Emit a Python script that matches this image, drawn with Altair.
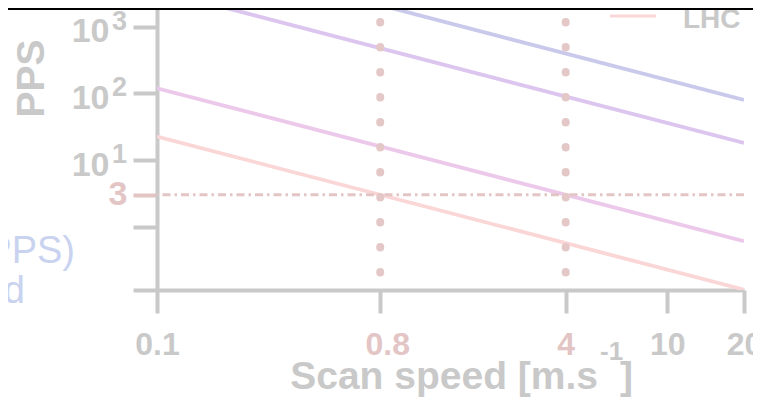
import altair as alt
import pandas as pd

# ---------------- data ----------------
speed_ends = [0.1, 20]
series_names = ["S1", "S2", "S3", "LHC"]
pps_s1 = [16000, 80]
pps_s2 = [3600, 18]
pps_s3 = [120, 0.6]
pps_lhc = [22.5, 0.1125]
line_colors = ["#c9c9ec", "#dcc5ef", "#ecc9ea", "#fad6d6"]

threshold_pps = [3]
marked_speeds = [0.75, 4]

x_tick_values = [0.1, 0.75, 4, 10, 20]
y_tick_values = [0.111, 1, 3, 10, 100, 1000]
y_exp_values = [10, 100, 1000]
y_exp_labels = ["1", "2", "3"]

x_title_parts = ["Scan speed [m.s", "-1", "]"]
legend_label = ["LHC"]
side_texts = ["Points per second (PPS)", "Scan speed"]

# ---------------- styles ----------------
GRAY = "#c9c9c9"
RED = "#e3c5c5"
DOT = "#e4c8c8"
BLUE_TXT = "#c9d3f0"
FB = "Liberation Sans, Arial, sans-serif"
FR = "Liberation Sans, Arial, sans-serif"

rows = []
for name, vals in zip(series_names, [pps_s1, pps_s2, pps_s3, pps_lhc]):
    for s, p in zip(speed_ends, vals):
        rows.append({"speed": s, "pps": p, "series": name})
lines_df = pd.DataFrame(rows)

xscale = alt.Scale(type="log", domain=[0.1, 20], nice=False)
yscale = alt.Scale(type="log", domain=[0.111, 1930], nice=False)

xaxis = alt.Axis(
    values=x_tick_values,
    format="~g",
    labelExpr="datum.value == 0.75 ? '0.8' : datum.label",
    labelColor={"condition": {"test": "datum.value == 0.75 || datum.value == 4", "value": RED}, "value": GRAY},
    labelOffset={"condition": {"test": "datum.value == 0.75", "value": 7}, "value": 0},
    labelFont=FB, labelFontSize=32, labelFontWeight="bold",
    labelPadding=16, labelOverlap=False, labelFlush=False, labelBound=False,
    tickSize=23, tickWidth=4, tickColor=GRAY,
    domainColor=GRAY, domainWidth=4, grid=False, title=None,
)

yaxis = alt.Axis(
    values=y_tick_values,
    labelExpr="datum.value == 3 ? '3' : (datum.value >= 10 ? '10' : '')",
    labelColor={"condition": {"test": "datum.value == 3", "value": RED}, "value": GRAY},
    tickColor={"condition": {"test": "datum.value == 3", "value": RED}, "value": GRAY},
    labelPadding={"condition": {"test": "datum.value == 3", "value": 6}, "value": 24},
    labelOffset={"condition": {"test": "datum.value >= 10", "value": 5}, "value": 0},
    labelFont=FB, labelFontSize=34, labelFontWeight="bold",
    labelOverlap=False, labelFlush=False, labelBound=False, labelBaseline="middle",
    tickSize=24, tickWidth=4,
    domainColor=GRAY, domainWidth=4, grid=False,
    title="PPS", titleFont=FB, titleFontSize=39, titleFontWeight="bold", titleColor=GRAY,
    titleAngle=270, titleX=-126, titleY=70, titleAlign="center", titleBaseline="middle",
)

X = alt.X("speed:Q", scale=xscale, axis=xaxis)
Y = alt.Y("pps:Q", scale=yscale, axis=yaxis)

lines = alt.Chart(lines_df).mark_line(clip=True, strokeWidth=3.8).encode(
    x=X, y=Y,
    color=alt.Color("series:N", scale=alt.Scale(domain=series_names, range=line_colors), legend=None),
    detail="series:N",
)

thresh = alt.Chart(pd.DataFrame({"pps": threshold_pps})).mark_rule(
    color=RED, strokeWidth=3, strokeDash=[8, 4, 2.5, 4]
).encode(y=Y)

dots = alt.Chart(pd.DataFrame({"speed": marked_speeds})).mark_rule(
    color=DOT, strokeWidth=8, strokeCap="round", strokeDash=[0.5, 24.5]
).encode(x=X, y=alt.value(14), y2=alt.value(270))

exps = alt.Chart(pd.DataFrame({"pps": y_exp_values, "t": y_exp_labels})).mark_text(
    align="right", baseline="middle", font=FB, fontSize=27, fontWeight="bold", color=GRAY, dy=-5
).encode(y=Y, x=alt.value(-30), text="t:N")

t1 = alt.Chart(pd.DataFrame({"t": [x_title_parts[0]]})).mark_text(
    align="right", baseline="alphabetic", font=FB, fontSize=39, fontWeight="bold", color=GRAY
).encode(x=alt.value(441), y=alt.value(381), text="t:N")
t2 = alt.Chart(pd.DataFrame({"t": [x_title_parts[1]]})).mark_text(
    align="left", baseline="alphabetic", font=FB, fontSize=26, fontWeight="bold", color=GRAY
).encode(x=alt.value(443), y=alt.value(352), text="t:N")
t3 = alt.Chart(pd.DataFrame({"t": [x_title_parts[2]]})).mark_text(
    align="left", baseline="alphabetic", font=FB, fontSize=39, fontWeight="bold", color=GRAY
).encode(x=alt.value(463), y=alt.value(381), text="t:N")

leg_line = alt.Chart(pd.DataFrame({"t": legend_label})).mark_rule(
    color=line_colors[3], strokeWidth=3
).encode(x=alt.value(453), x2=alt.value(499), y=alt.value(8))
leg_text = alt.Chart(pd.DataFrame({"t": legend_label})).mark_text(
    align="left", baseline="alphabetic", font=FB, fontSize=28, fontWeight="bold", color=GRAY
).encode(x=alt.value(526), y=alt.value(20), text="t:N")

side1 = alt.Chart(pd.DataFrame({"t": [side_texts[0]]})).mark_text(
    align="right", baseline="alphabetic", font=FR, fontSize=38, color=BLUE_TXT
).encode(x=alt.value(-82), y=alt.value(255), text="t:N")
side2 = alt.Chart(pd.DataFrame({"t": [side_texts[1]]})).mark_text(
    align="right", baseline="alphabetic", font=FR, fontSize=38, color=BLUE_TXT
).encode(x=alt.value(-132), y=alt.value(295), text="t:N")

top_line = alt.Chart(pd.DataFrame({"t": ["top"]})).mark_rule(
    color="black", strokeWidth=2
).encode(x=alt.value(-160), x2=alt.value(620), y=alt.value(1))

chart = alt.layer(
    lines, thresh, dots, exps, t1, t2, t3, leg_line, leg_text, side1, side2, top_line
).properties(
    width=587, height=282,
    padding={"left": 149, "top": 0, "right": 9, "bottom": 115},
    autosize=alt.AutoSizeParams(type="none"),
    background="white",
).configure_view(stroke=None)

chart.save("out.html", embed_options={"renderer": "svg", "actions": False})
